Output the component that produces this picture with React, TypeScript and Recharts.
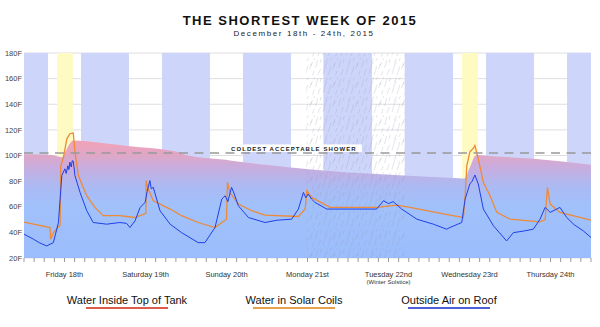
import { ComposedChart, Area, Line, XAxis, YAxis, CartesianGrid, ReferenceArea, ReferenceLine } from "recharts"

// hours since Dec 18, 00:00
const dayLabels = ["Friday 18th", "Saturday 19th", "Sunday 20th", "Monday 21st", "Tuesday 22nd", "Wednesday 23rd", "Thursday 24th"]
const daylight: [number, number][] = [
  [7.1, 16.9], [31.1, 40.9], [55.1, 64.9], [79.1, 88.7], [103.1, 112.8], [127.1, 136.9], [151.1, 160.9],
]
const sunny: [number, number][] = [[9.8, 14.5], [129.8, 134.5]]
const solsticeHaze: [number, number] = [83.6, 112.9]
const showerLimit = 102
const yTicks = [20, 40, 60, 80, 100, 120, 140, 160, 180]

const tankTop = [
  { h: 0, t: 101 }, { h: 7.7, t: 100.5 }, { h: 11.2, t: 98.7 }, { h: 12.3, t: 103 }, { h: 13.4, t: 108.5 },
  { h: 14.6, t: 111.8 }, { h: 22.5, t: 110 }, { h: 31.4, t: 107.3 }, { h: 43.3, t: 104 }, { h: 46, t: 102.5 },
  { h: 47.7, t: 100.5 }, { h: 61.5, t: 96 }, { h: 71.4, t: 92.7 }, { h: 85.2, t: 89 }, { h: 129, t: 82.2 },
  { h: 130.5, t: 82 }, { h: 132, t: 90 }, { h: 134, t: 100.5 }, { h: 136, t: 100 }, { h: 151, t: 97.4 },
  { h: 168, t: 92.7 },
]

const solarCoils = [
  { h: 0, t: 48 }, { h: 7.7, t: 43.8 }, { h: 7.9, t: 34.7 }, { h: 8.7, t: 39.8 }, { h: 10.7, t: 45.6 },
  { h: 10.9, t: 92 }, { h: 11.6, t: 97.4 }, { h: 12.7, t: 113 }, { h: 13.6, t: 117 }, { h: 14.6, t: 117.5 },
  { h: 15.1, t: 102.6 }, { h: 16.1, t: 84.3 }, { h: 18.6, t: 68.6 }, { h: 21, t: 59.5 }, { h: 23.5, t: 53 },
  { h: 28.4, t: 53 }, { h: 32.9, t: 51.6 }, { h: 36.1, t: 54.8 }, { h: 36.2, t: 80.4 }, { h: 36.8, t: 73.9 },
  { h: 38.3, t: 64.7 }, { h: 43.3, t: 58.2 }, { h: 46.7, t: 53 }, { h: 51.6, t: 47.7 }, { h: 56.6, t: 43.8 },
  { h: 60, t: 50.3 }, { h: 60.3, t: 79.1 }, { h: 61, t: 71.2 }, { h: 63.5, t: 62.1 }, { h: 67.5, t: 56.9 },
  { h: 71.4, t: 53.5 }, { h: 81.3, t: 52.4 }, { h: 83.3, t: 58.2 }, { h: 83.8, t: 72.5 }, { h: 85.2, t: 67.3 },
  { h: 90.7, t: 59.5 }, { h: 104.5, t: 59.5 }, { h: 110.4, t: 61.3 }, { h: 114.4, t: 59.5 }, { h: 126.2, t: 53.5 },
  { h: 130.2, t: 51.6 }, { h: 130.7, t: 68.6 }, { h: 131.2, t: 92 }, { h: 132.1, t: 102.6 }, { h: 133.2, t: 106 },
  { h: 133.6, t: 107.8 }, { h: 134.6, t: 97.4 }, { h: 136.1, t: 79 }, { h: 138.1, t: 68.6 }, { h: 140.1, t: 55.6 },
  { h: 144, t: 50.3 }, { h: 152.9, t: 48.2 }, { h: 154.4, t: 50 }, { h: 155.1, t: 75.2 }, { h: 155.9, t: 62.1 },
  { h: 158.8, t: 55.6 }, { h: 168, t: 49.5 },
]

const outsideAir = [
  { h: 0, t: 38.6 }, { h: 1.5, t: 36.5 }, { h: 2.8, t: 34.7 }, { h: 4.5, t: 32 }, { h: 6.7, t: 29.4 },
  { h: 8.7, t: 32 }, { h: 10.2, t: 47.7 }, { h: 11.2, t: 84.3 }, { h: 12.1, t: 89.6 }, { h: 12.5, t: 86 },
  { h: 13, t: 92 }, { h: 13.3, t: 89 }, { h: 13.6, t: 94.8 }, { h: 14, t: 91 }, { h: 14.3, t: 96 },
  { h: 14.6, t: 95.6 }, { h: 15.1, t: 84.3 }, { h: 16.6, t: 71.2 }, { h: 18.6, t: 56.9 }, { h: 20.5, t: 47.7 },
  { h: 24.5, t: 46.4 }, { h: 28.4, t: 47.7 }, { h: 30.4, t: 47 }, { h: 31.4, t: 43.8 }, { h: 32.9, t: 49 },
  { h: 34.4, t: 59.5 }, { h: 35.9, t: 63.4 }, { h: 36.5, t: 72 }, { h: 37.3, t: 80.4 }, { h: 37.7, t: 74 },
  { h: 38.3, t: 75.2 }, { h: 40.3, t: 56.9 }, { h: 43.3, t: 46.4 }, { h: 46.7, t: 39.8 }, { h: 51.6, t: 32 },
  { h: 53.6, t: 32 }, { h: 56.6, t: 43.8 }, { h: 58.6, t: 66 }, { h: 59.6, t: 68.6 }, { h: 60.4, t: 64 },
  { h: 61.5, t: 75.2 }, { h: 62.3, t: 70 }, { h: 63.5, t: 60.8 }, { h: 66.5, t: 51.6 }, { h: 71.4, t: 47.7 },
  { h: 75, t: 49.5 }, { h: 79.3, t: 50.3 }, { h: 81.3, t: 58.2 }, { h: 82.8, t: 71.2 }, { h: 83.5, t: 67 },
  { h: 84.2, t: 70 }, { h: 85.2, t: 66 }, { h: 86.2, t: 63.4 }, { h: 89.7, t: 58.2 }, { h: 104.5, t: 58.2 },
  { h: 106.5, t: 64.7 }, { h: 108, t: 62.5 }, { h: 109.4, t: 64 }, { h: 111.9, t: 58.2 }, { h: 116.4, t: 50.3 },
  { h: 121.3, t: 46.4 }, { h: 125.2, t: 42.5 }, { h: 126.2, t: 43.8 }, { h: 129.7, t: 47.7 }, { h: 130.7, t: 66 },
  { h: 132.1, t: 77.8 }, { h: 132.8, t: 80 }, { h: 133.6, t: 84.8 }, { h: 134.6, t: 77.8 }, { h: 136.1, t: 58.2 },
  { h: 139.1, t: 45.1 }, { h: 143, t: 33.3 }, { h: 145, t: 39.8 }, { h: 148, t: 41 }, { h: 150.9, t: 42.5 },
  { h: 152.9, t: 50.3 }, { h: 154.4, t: 59.5 }, { h: 155.9, t: 55.6 }, { h: 158.8, t: 59.5 }, { h: 160.8, t: 51.6 },
  { h: 163, t: 46 }, { h: 165.7, t: 41.2 }, { h: 168, t: 36 },
]

const legendItems = [
  { name: "Water Inside Top of Tank", color: "#de5c4c", center: 127 },
  { name: "Water in Solar Coils", color: "#e9a04c", center: 294 },
  { name: "Outside Air on Roof", color: "#4c5ed8", center: 449 },
]

const font = "'Liberation Sans', Arial, sans-serif"
const xTicks = Array.from({ length: 57 }, (_, i) => i * 3)

function nightBands() {
  const out: [number, number][] = []
  let start = 0
  for (const [a, b] of daylight) {
    out.push([start, a])
    start = b
  }
  out.push([start, 168])
  return out
}

function DayTick({ x, y, payload }: any) {
  const v = payload.value
  if (v % 24 !== 12) return <g />
  const i = (v - 12) / 24
  return (
    <g>
      <text x={x} y={y + 12.5} textAnchor="middle" fontSize={7.5} fill="#333" fontFamily={font}>
        {dayLabels[i]}
      </text>
      {i === 4 && (
        <text x={x} y={y + 20} textAnchor="middle" fontSize={6} fill="#333" fontFamily={font}>
          (Winter Solstice)
        </text>
      )}
    </g>
  )
}

function ShowerLabel({ viewBox }: any) {
  const cx = viewBox.x + viewBox.width * 0.476
  const y = viewBox.y
  return (
    <g>
      <rect x={cx - 68} y={y - 8.5} width={136} height={7.5} fill="#fff" />
      <text x={cx} y={y - 2.4} textAnchor="middle" fontSize={6} fontWeight={700} letterSpacing={1.05} fill="#222" fontFamily={font}>
        COLDEST ACCEPTABLE SHOWER
      </text>
    </g>
  )
}

export default function App() {
  return (
    <div style={{ position: "absolute", left: 0, top: 0, width: 600, height: 327, background: "#fff", fontFamily: font }}>
      <ComposedChart width={600} height={327} margin={{ top: 53, right: 9, bottom: 39, left: 0 }}>
        <defs>
          <linearGradient id="tankFill" x1="0" y1="0" x2="0" y2="1">
            <stop offset="0%" stopColor="#f3a2b6" />
            <stop offset="12%" stopColor="#e0a6c6" />
            <stop offset="24%" stopColor="#c6aee0" />
            <stop offset="38%" stopColor="#adb9f2" />
            <stop offset="55%" stopColor="#a1c1fb" />
            <stop offset="100%" stopColor="#9bbdfb" />
          </linearGradient>
          <pattern id="scribble" width="23" height="19" patternUnits="userSpaceOnUse">
            <path
              d="M1 17 q1.5 -5 3 -10 q0.5 -2 1.5 -1 M6 18 q2 -4 2.5 -9 M10.5 12 q1 -3 3 -7 M3.5 6 l2 -4.5 M13.5 18.5 q0.8 -2 1.5 -4.5 M8 4 q0.5 -1.5 1.5 -3 M16.5 11 q1.5 -4 2 -8 M19 18 q1 -3 2.5 -6 M12 9 l0.8 -2.2 M21 6 q0.6 -2 1.2 -4 M15 3 l0.6 -1.8"
              stroke="#9096ad"
              strokeWidth={0.45}
              fill="none"
              opacity={0.55}
            />
          </pattern>
        </defs>
        <XAxis
          type="number"
          dataKey="h"
          domain={[0, 168]}
          ticks={xTicks}
          interval={0}
          allowDataOverflow
          axisLine={false}
          tickLine={{ stroke: "#9a9a9a" }}
          tickSize={4}
          height={30}
          tick={<DayTick />}
        />
        <YAxis
          type="number"
          domain={[20, 180]}
          ticks={yTicks}
          width={24}
          axisLine={false}
          tickLine={false}
          tickSize={0}
          tickMargin={2}
          tickFormatter={(v) => `${v}F`}
          tick={{ fontSize: 7.5, fill: "#444", fontFamily: font }}
        />
        {nightBands().map(([a, b], i) => (
          <ReferenceArea key={"n" + i} x1={a} x2={b} fill="#cdd6fa" fillOpacity={1} stroke="none" />
        ))}
        {sunny.map(([a, b], i) => (
          <ReferenceArea key={"s" + i} x1={a} x2={b} fill="#fdfac2" fillOpacity={1} stroke="none" />
        ))}
        <CartesianGrid vertical={false} stroke="#c8c8d0" strokeOpacity={0.6} />
        <Area
          data={tankTop}
          dataKey="t"
          type="monotone"
          stroke="none"
          fill="url(#tankFill)"
          fillOpacity={1}
          isAnimationActive={false}
        />
        <ReferenceArea x1={solsticeHaze[0]} x2={solsticeHaze[1]} fill="url(#scribble)" fillOpacity={1} stroke="none" />
        <Line data={solarCoils} dataKey="t" type="linear" stroke="#ee8a38" strokeWidth={1.3} dot={false} isAnimationActive={false} />
        <Line data={outsideAir} dataKey="t" type="linear" stroke="#1f3fe6" strokeWidth={1} dot={false} isAnimationActive={false} />
        <ReferenceLine y={showerLimit} stroke="#999" strokeWidth={1.5} strokeDasharray="9 6.5" label={<ShowerLabel />} />
      </ComposedChart>
      <div style={{ position: "absolute", top: 13.6, left: 0, width: 600, textAlign: "center", fontSize: 13, lineHeight: "13px", fontWeight: 700, letterSpacing: 1.5, color: "#111" }}>
        THE SHORTEST WEEK OF 2015
      </div>
      <div style={{ position: "absolute", top: 29.8, left: 4, width: 600, textAlign: "center", fontSize: 8, lineHeight: "8px", letterSpacing: 1.6, color: "#222" }}>
        December 18th - 24th, 2015
      </div>
      {legendItems.map((it) => (
        <div key={it.name}>
          <div style={{ position: "absolute", top: 295, left: it.center - 100, width: 200, textAlign: "center", fontSize: 11, lineHeight: "11px", color: "#111" }}>
            {it.name}
          </div>
          <div style={{ position: "absolute", top: 306.7, left: it.center - 41, width: 82, height: 2, background: it.color }} />
        </div>
      ))}
    </div>
  )
}
